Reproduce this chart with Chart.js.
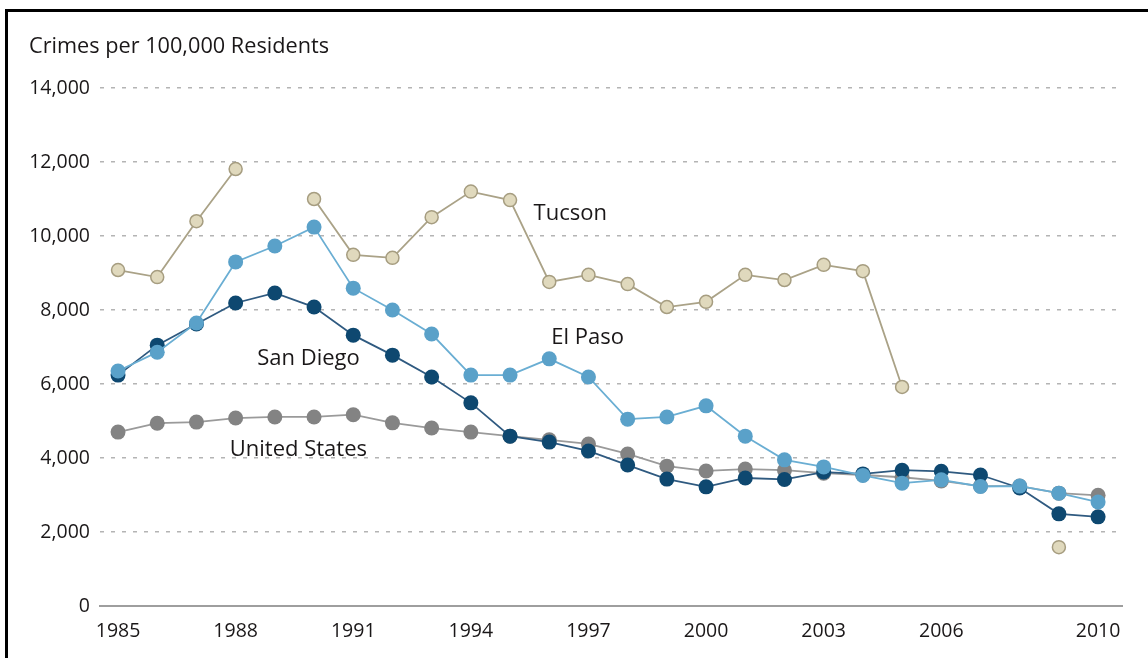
<!DOCTYPE html>
<html>
<head>
<meta charset="utf-8">
<script src="https://cdn.jsdelivr.net/npm/chart.js@4/dist/chart.umd.min.js"></script>
<style>
  html, body { margin: 0; padding: 0; background: #fff; overflow: hidden; }
  #frame { position: absolute; left: 5px; top: 9px; width: 1300px; height: 800px;
           border-left: 3px solid #000; border-top: 3px solid #000; }
  canvas { position: absolute; left: 0; top: 0; }
</style>
</head>
<body>
<div id="frame"></div>
<canvas id="crime" width="1148" height="658"></canvas>
<script>
const years = [1985, 1986, 1987, 1988, 1989, 1990, 1991, 1992, 1993, 1994, 1995, 1996, 1997,
  1998, 1999, 2000, 2001, 2002, 2003, 2004, 2005, 2006, 2007, 2008, 2009, 2010];

const tucson = [9080, 8890, 10400, 11810, null, 11000, 9490, 9410, 10510, 11200, 10970, 8760, 8950,
  8700, 8080, 8220, 8950, 8810, 9220, 9050, 5920, null, null, null, 1590, null];
const elPaso = [6350, 6860, 7650, 9300, 9730, 10240, 8590, 8000, 7350, 6240, 6240, 6680, 6190,
  5050, 5110, 5410, 4590, 3950, 3760, 3530, 3320, 3410, 3230, 3240, 3050, 2810];
const sanDiego = [6240, 7050, 7620, 8190, 8460, 8080, 7320, 6780, 6190, 5490, 4590, 4430, 4190,
  3810, 3430, 3220, 3460, 3420, 3620, 3570, 3670, 3640, 3540, 3190, 2490, 2410];
const unitedStates = [4700, 4940, 4970, 5080, 5110, 5110, 5170, 4950, 4810, 4700, 4590, 4490, 4380,
  4110, 3780, 3650, 3700, 3670, 3590, 3540, 3480, 3380, 3240, 3240, 3050, 2990];

const xTicks = [1985, 1988, 1991, 1994, 1997, 2000, 2003, 2006, 2010];
const yTicks = [0, 2000, 4000, 6000, 8000, 10000, 12000, 14000];

// series name labels, anchored at [year, value] of their left baseline
const seriesLabels = [
  { text: 'Tucson', x: 1995.6, y: 10430 },
  { text: 'El Paso', x: 1996.05, y: 7080 },
  { text: 'San Diego', x: 1988.55, y: 6520 },
  { text: 'United States', x: 1987.85, y: 4060 }
];

const FONT = '"Open Sans", "Liberation Sans", sans-serif';
const pts = vals => years.map((yr, i) => ({ x: yr, y: vals[i] }));

const textPlugin = {
  id: 'texts',
  afterDraw(chart) {
    const { ctx, scales: { x, y } } = chart;
    ctx.save();
    ctx.fillStyle = '#1a1718';
    ctx.textBaseline = 'alphabetic';
    ctx.textAlign = 'left';
    ctx.font = '21.7px ' + FONT;
    ctx.fillText('Crimes per 100,000 Residents', 29, 53);
    ctx.font = '22px ' + FONT;
    seriesLabels.forEach(l => {
      ctx.fillText(l.text, x.getPixelForValue(l.x), y.getPixelForValue(l.y));
    });
    ctx.restore();
  }
};

new Chart(document.getElementById('crime'), {
  type: 'line',
  data: {
    datasets: [
      {
        label: 'El Paso', data: pts(elPaso),
        borderColor: '#6aaed3', backgroundColor: '#5aa1c9', pointBorderColor: '#5aa1c9',
        borderWidth: 1.8, pointRadius: 7.5, pointBorderWidth: 0
      },
      {
        label: 'San Diego', data: pts(sanDiego),
        borderColor: '#2f5a80', backgroundColor: '#0e4870', pointBorderColor: '#0e4870',
        borderWidth: 1.8, pointRadius: 7.5, pointBorderWidth: 0
      },
      {
        label: 'United States', data: pts(unitedStates),
        borderColor: '#9a9a9a', backgroundColor: '#838383', pointBorderColor: '#838383',
        borderWidth: 1.8, pointRadius: 7.5, pointBorderWidth: 0
      },
      {
        label: 'Tucson', data: pts(tucson),
        borderColor: '#aaa287', backgroundColor: '#e0d9bd', pointBorderColor: '#a69d80',
        borderWidth: 1.8, pointRadius: 6.5, pointBorderWidth: 1.5
      }
    ]
  },
  options: {
    responsive: false,
    animation: false,
    spanGaps: false,
    layout: { padding: { top: 88, right: 26, left: 0, bottom: 0 } },
    plugins: { legend: { display: false }, tooltip: { enabled: false } },
    scales: {
      x: {
        type: 'linear',
        min: 1984.54,
        max: 2010.61,
        afterBuildTicks: s => { s.ticks = xTicks.map(v => ({ value: v })); },
        afterFit: s => { s.height = 52; },
        grid: { display: false },
        border: { display: true, color: '#9e9e9e', width: 2 },
        ticks: {
          color: '#1a1718', font: { family: FONT, size: 19.5 }, padding: 6,
          maxRotation: 0, autoSkip: false, callback: v => String(v)
        }
      },
      y: {
        min: 0,
        max: 14000,
        afterBuildTicks: s => { s.ticks = yTicks.map(v => ({ value: v })); },
        afterFit: s => { s.width = 100; },
        grid: {
          drawTicks: false,
          lineWidth: 1.6,
          color: c => (c.tick && c.tick.value === 0) ? 'rgba(0,0,0,0)' : '#b4b4b4'
        },
        border: { display: false, dash: [4, 7] },
        ticks: {
          color: '#1a1718', font: { family: FONT, size: 19.5 }, padding: 10,
          callback: v => v.toLocaleString('en-US')
        }
      }
    }
  },
  plugins: [textPlugin]
});
</script>
</body>
</html>
